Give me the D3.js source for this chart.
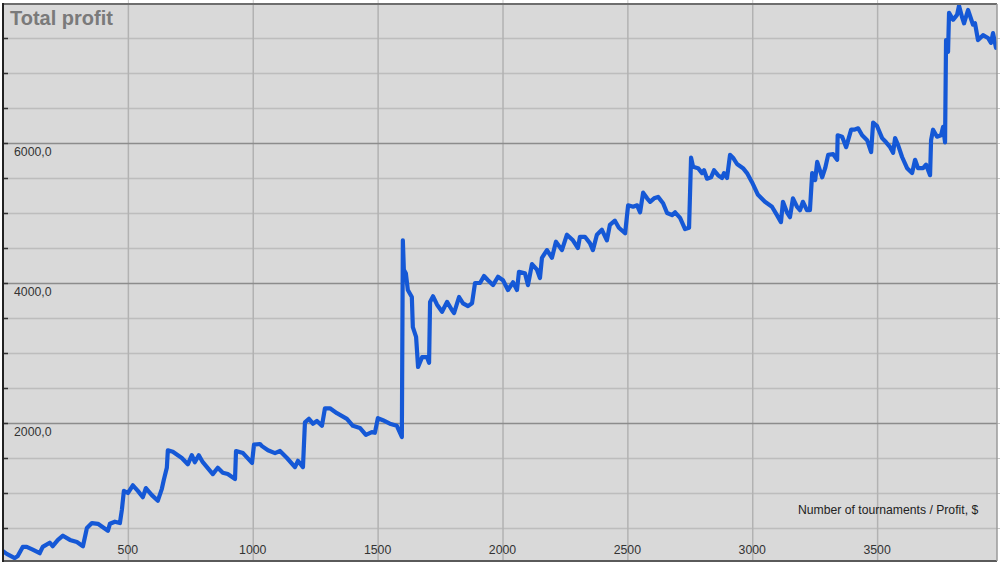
<!DOCTYPE html>
<html>
<head>
<meta charset="utf-8">
<script src="https://cdn.jsdelivr.net/npm/d3@7"></script>
<style>
  html, body { margin: 0; padding: 0; background: #fff; }
  svg { display: block; font-family: "Liberation Sans", Arial, sans-serif; }
</style>
</head>
<body>
<svg id="chart" width="1000" height="563"></svg>
<script>
// tournaments played vs cumulative profit ($)
var tournaments = [0,15,47,59,79,95,119,147,159,187,199,220,240,268,296,320,336,356,380,400,420,428,448,468,476,484,500,520,540,560,572,596,620,636,644,656,660,680,716,740,756,768,784,800,840,860,880,900,929,933,961,997,1005,1029,1037,1061,1089,1109,1137,1169,1181,1201,1209,1225,1241,1257,1277,1289,1309,1337,1377,1401,1429,1453,1477,1489,1501,1521,1549,1577,1597,1601,1605,1613,1621,1637,1641,1654,1662,1678,1698,1706,1710,1722,1738,1758,1778,1798,1806,1826,1842,1862,1878,1890,1910,1926,1942,1962,1982,2002,2022,2042,2058,2066,2090,2102,2118,2138,2150,2158,2178,2198,2214,2238,2258,2282,2302,2310,2330,2350,2362,2378,2398,2418,2430,2450,2466,2491,2503,2523,2539,2551,2563,2579,2591,2607,2623,2643,2659,2679,2691,2711,2731,2747,2755,2763,2783,2799,2807,2819,2835,2847,2863,2879,2887,2899,2911,2923,2939,2963,2979,2999,3023,3051,3079,3099,3115,3123,3139,3151,3163,3179,3191,3203,3219,3231,3240,3252,3260,3280,3292,3304,3324,3340,3342,3360,3376,3396,3408,3424,3440,3460,3476,3484,3500,3520,3536,3552,3564,3572,3584,3600,3620,3640,3652,3664,3684,3696,3712,3716,3724,3740,3756,3764,3772,3776,3784,3788,3804,3820,3828,3840,3848,3864,3884,3892,3904,3924,3944,3956,3964,3976];
var profit = [170,130,70,100,230,230,190,140,230,290,240,330,390,330,300,240,500,570,560,510,460,560,590,570,760,1030,1000,1110,1030,940,1070,970,890,1060,1190,1360,1610,1590,1500,1410,1540,1440,1540,1440,1270,1360,1290,1270,1200,1600,1570,1430,1690,1700,1670,1610,1570,1600,1500,1370,1460,1370,2010,2060,1990,2030,1960,2210,2210,2140,2060,1960,1930,1830,1870,1860,2070,2040,1990,1960,1800,4610,4190,4140,3900,3800,3370,3230,2800,2940,2940,2860,3730,3810,3690,3590,3730,3610,3570,3800,3710,3670,3710,4000,4000,4100,4040,3970,4090,4040,3900,4010,3900,4160,4140,3970,4270,4190,4070,4360,4470,4360,4590,4470,4690,4610,4500,4660,4660,4570,4470,4690,4760,4610,4830,4890,4790,4710,5110,5090,5110,5010,5290,5210,5160,5210,5230,5140,5000,4970,5010,4930,4770,4790,5790,5660,5640,5570,5610,5490,5510,5610,5540,5500,5570,5500,5830,5790,5700,5640,5570,5440,5260,5160,5090,4970,4870,5160,5010,4940,5210,5090,5040,5160,5040,5040,5570,5470,5730,5510,5640,5830,5840,5760,6110,6090,5940,6190,6190,6210,6110,6040,5870,6290,6240,6070,6010,5940,5860,6070,5970,5800,5640,5570,5760,5640,5640,5690,5540,6040,6190,6090,6110,6230,6010,7470,7300,7860,7760,7830,7960,7800,7710,7900,7690,7710,7470,7540,7500,7430,7570,7360];

var xTicks = [500, 1000, 1500, 2000, 2500, 3000, 3500];
var yMinorTicks = d3.range(500, 8000, 500);
var yMajorTicks = [2000, 4000, 6000];

var title = "Total profit";
var axisNote = "Number of tournaments / Profit, $";

var svg = d3.select("#chart");
var plotLeft = 3, plotRight = 997, plotTop = 4, plotBottom = 561;

var x = d3.scaleLinear().domain([0, 3980]).range([plotLeft, plotRight]);
var y = d3.scaleLinear().domain([0, 8000]).range([563, 3]);

// outside tick stubs (top and right)
svg.append("g")
  .attr("transform", "translate(0," + plotTop + ")")
  .call(d3.axisTop(x).tickValues(xTicks).tickSize(4).tickFormat(""))
  .call(function(g) {
    g.select(".domain").remove();
    g.selectAll("line").attr("stroke", "#c8c8c8");
  });
svg.append("g")
  .attr("transform", "translate(" + plotRight + ",0)")
  .call(d3.axisRight(y).tickValues(yMinorTicks).tickSize(4).tickFormat(""))
  .call(function(g) {
    g.select(".domain").remove();
    g.selectAll("line").attr("stroke", "#c8c8c8");
  });

// plot background
svg.append("rect")
  .attr("x", plotLeft).attr("y", plotTop)
  .attr("width", plotRight - plotLeft).attr("height", plotBottom - plotTop)
  .attr("fill", "#d9d9d9");

// minor horizontal grid
svg.append("g")
  .attr("transform", "translate(" + plotLeft + ",0)")
  .call(d3.axisRight(y).tickValues(yMinorTicks.filter(function(d) { return yMajorTicks.indexOf(d) < 0; }))
    .tickSize(plotRight - plotLeft).tickFormat(""))
  .call(function(g) {
    g.select(".domain").remove();
    g.selectAll("line").attr("stroke", "#bdbdbd").attr("stroke-width", 1.5);
  });

// vertical grid
svg.append("g")
  .attr("transform", "translate(0," + plotBottom + ")")
  .call(d3.axisTop(x).tickValues(xTicks).tickSize(plotBottom - plotTop).tickFormat(""))
  .call(function(g) {
    g.select(".domain").remove();
    g.selectAll("line").attr("stroke", "#b2b2b2").attr("stroke-width", 1.5);
  });

// major horizontal grid
svg.append("g")
  .attr("transform", "translate(" + plotLeft + ",0)")
  .call(d3.axisRight(y).tickValues(yMajorTicks).tickSize(plotRight - plotLeft).tickFormat(""))
  .call(function(g) {
    g.select(".domain").remove();
    g.selectAll("line").attr("stroke", "#8c8c8c").attr("stroke-width", 1.5);
  });

// small inner ticks on the left border
svg.append("g")
  .attr("transform", "translate(" + plotLeft + ",0)")
  .call(d3.axisRight(y).tickValues(yMinorTicks).tickSize(5).tickFormat(""))
  .call(function(g) {
    g.select(".domain").remove();
    g.selectAll("line").attr("stroke", "#333").attr("stroke-width", 1.5);
  });

// y labels, sitting under their gridline
svg.append("g")
  .selectAll("text")
  .data(yMajorTicks)
  .join("text")
  .attr("x", 14)
  .attr("y", function(d) { return y(d) + 13; })
  .attr("font-size", 12.3)
  .attr("fill", "#333")
  .text(function(d) { return d3.format(".1f")(d).replace(".", ","); });

// x labels
svg.append("g")
  .selectAll("text")
  .data(xTicks)
  .join("text")
  .attr("x", function(d) { return x(d); })
  .attr("y", 554)
  .attr("text-anchor", "middle")
  .attr("font-size", 12.3)
  .attr("fill", "#333")
  .text(function(d) { return d; });

// the profit line
svg.append("clipPath").attr("id", "plotclip")
  .append("rect")
  .attr("x", plotLeft).attr("y", plotTop)
  .attr("width", plotRight - plotLeft).attr("height", plotBottom - plotTop);

var line = d3.line()
  .x(function(d, i) { return x(tournaments[i]); })
  .y(function(d) { return y(d); });

svg.append("path")
  .datum(profit)
  .attr("clip-path", "url(#plotclip)")
  .attr("fill", "none")
  .attr("stroke", "#1558d6")
  .attr("stroke-width", 4.2)
  .attr("stroke-linejoin", "round")
  .attr("stroke-linecap", "round")
  .attr("d", line);

// borders
svg.append("line").attr("x1", plotLeft).attr("x2", plotRight).attr("y1", plotTop).attr("y2", plotTop)
  .attr("stroke", "#6e6e6e").attr("stroke-width", 2);
svg.append("line").attr("x1", plotLeft).attr("x2", plotRight).attr("y1", plotBottom).attr("y2", plotBottom)
  .attr("stroke", "#5a5a5a").attr("stroke-width", 2);
svg.append("line").attr("x1", plotRight).attr("x2", plotRight).attr("y1", plotTop).attr("y2", plotBottom)
  .attr("stroke", "#9a9a9a").attr("stroke-width", 1.5);
svg.append("line").attr("x1", plotLeft).attr("x2", plotLeft).attr("y1", plotTop - 1).attr("y2", plotBottom + 1)
  .attr("stroke", "#222").attr("stroke-width", 2);

// title and axis note
svg.append("text")
  .attr("x", 10).attr("y", 25)
  .attr("font-size", 20)
  .attr("font-weight", "bold")
  .attr("fill", "#7a7a7a")
  .text(title);

svg.append("text")
  .attr("x", 798).attr("y", 514)
  .attr("font-size", 12.2)
  .attr("fill", "#222")
  .text(axisNote);
</script>
</body>
</html>
